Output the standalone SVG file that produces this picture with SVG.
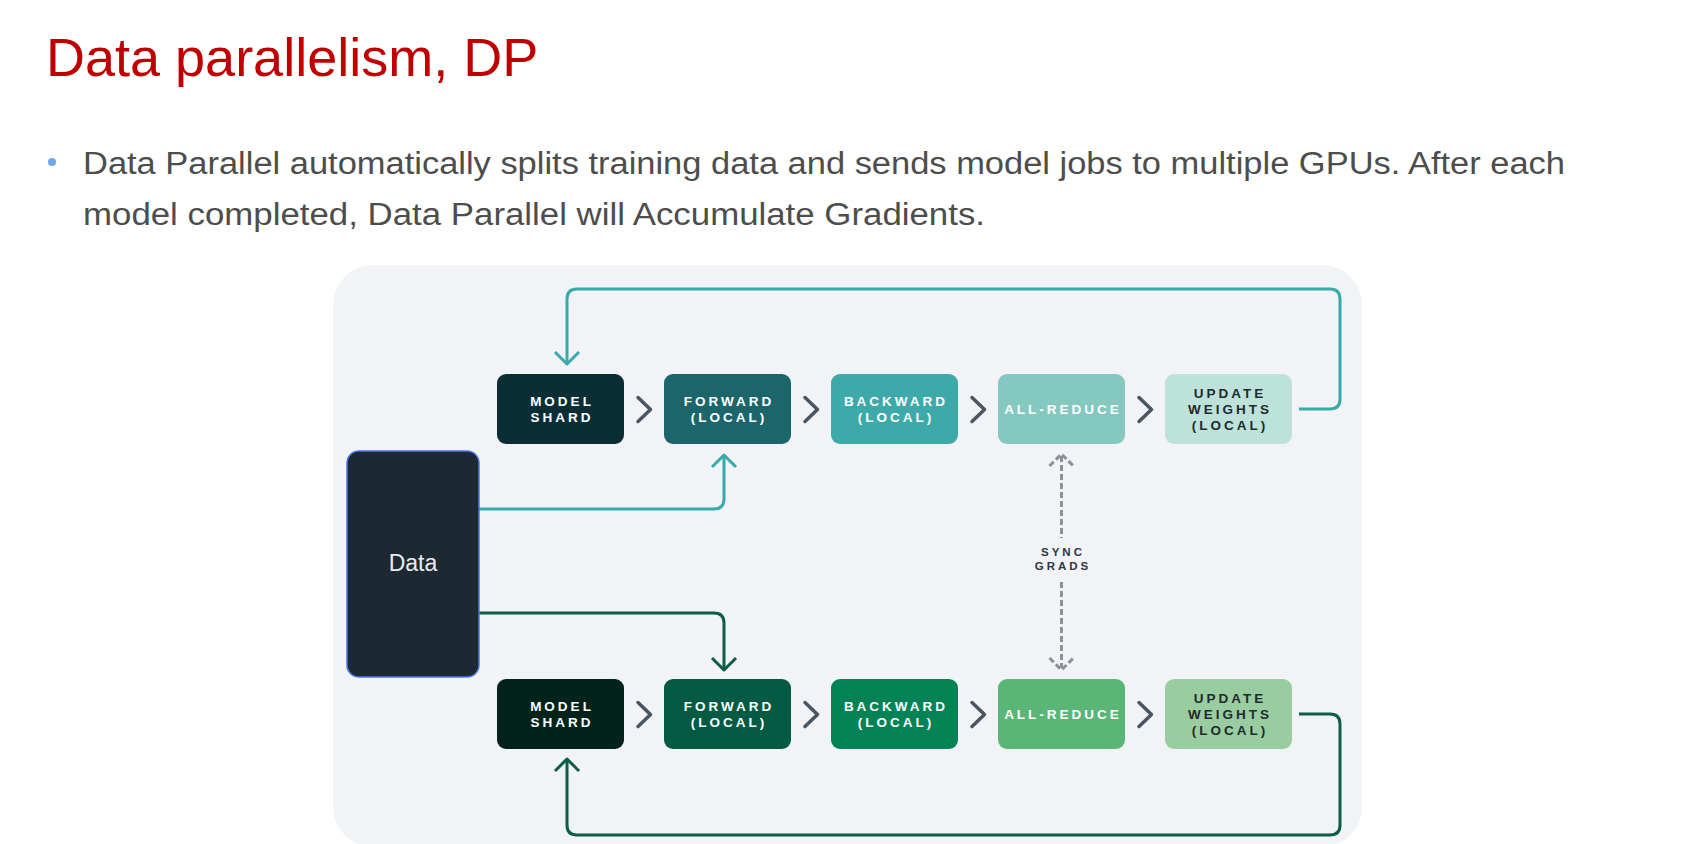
<svg xmlns="http://www.w3.org/2000/svg" width="1684" height="844" viewBox="0 0 1684 844">
<style>
.title{font-family:"Liberation Sans",Arial,sans-serif;font-size:54px;fill:#c00000}
.body{font-family:"Liberation Sans",Arial,sans-serif;font-size:31px;fill:#4d4d4d}
.lbl{font-family:"Liberation Sans",Arial,sans-serif;font-size:13.5px;font-weight:bold;letter-spacing:3px;text-anchor:middle}
.w{fill:#ffffff}
.d{fill:#1f2a30}
.sync{font-family:"Liberation Sans",Arial,sans-serif;font-size:11.5px;font-weight:bold;letter-spacing:3px;text-anchor:middle;fill:#2d3640}
.chev{fill:none;stroke:#4a5562;stroke-width:3.5;stroke-linecap:round;stroke-linejoin:round}
.lt{fill:none;stroke:#3aa9a9;stroke-width:3;stroke-linejoin:round}
.lb{fill:none;stroke:#0d5e45;stroke-width:3;stroke-linejoin:round}
.dash{fill:none;stroke:#8a9197;stroke-width:3;stroke-dasharray:6 3}
</style>
<rect width="1684" height="844" fill="#ffffff"/>
<text class="title" x="46" y="76">Data parallelism, DP</text>
<circle cx="52" cy="162" r="4" fill="#6ea8f5"/>
<text class="body" x="83" y="174" textLength="1482" lengthAdjust="spacingAndGlyphs">Data Parallel automatically splits training data and sends model jobs to multiple GPUs. After each</text>
<text class="body" x="83" y="225" textLength="902" lengthAdjust="spacingAndGlyphs">model completed, Data Parallel will Accumulate Gradients.</text>
<rect x="333" y="265" width="1029" height="582" rx="40" fill="#f1f3f7"/>

<g id="connectors">
<path class="lt" d="M1299 409 H1330 Q1340 409 1340 399 V299 Q1340 289 1330 289 H577 Q567 289 567 299 V364"/>
<path class="lt" d="M555 352 L567 364 L579 352"/>
<path class="lt" d="M479 509 H714 Q724 509 724 499 V455"/>
<path class="lt" d="M712 467 L724 455 L736 467"/>
<path class="lb" d="M479 613 H714 Q724 613 724 623 V670"/>
<path class="lb" d="M712 658 L724 670 L736 658"/>
<path class="lb" d="M1299 714 H1330 Q1340 714 1340 724 V825 Q1340 835 1330 835 H577 Q567 835 567 825 V759"/>
<path class="lb" d="M555 771 L567 759 L579 771"/>
<path class="chev" d="M638 397.5 L650.5 409.5 L638 421.5"/>
<path class="chev" d="M805 397.5 L817.5 409.5 L805 421.5"/>
<path class="chev" d="M972 397.5 L984.5 409.5 L972 421.5"/>
<path class="chev" d="M1139 397.5 L1151.5 409.5 L1139 421.5"/>
<path class="chev" d="M638 702.5 L650.5 714.5 L638 726.5"/>
<path class="chev" d="M805 702.5 L817.5 714.5 L805 726.5"/>
<path class="chev" d="M972 702.5 L984.5 714.5 L972 726.5"/>
<path class="chev" d="M1139 702.5 L1151.5 714.5 L1139 726.5"/>
<path class="dash" d="M1061.5 456 V538"/>
<path class="dash" d="M1049.5 466 L1061.5 454 L1073.5 466"/>
<path class="dash" d="M1061.5 582 V668"/>
<path class="dash" d="M1049.5 658 L1061.5 670 L1073.5 658"/>
</g>

<g id="sync-label">
<text class="sync" x="1063" y="556">SYNC</text>
<text class="sync" x="1063" y="570">GRADS</text>
</g>

<g id="data">
<rect x="347" y="451" width="132" height="226" rx="12" fill="#1d2932" stroke="#4f74e8" stroke-width="1.5"/>
<text x="413" y="571" text-anchor="middle" font-family="Liberation Sans, Arial, sans-serif" font-size="23" fill="#e8ecef">Data</text>
</g>

<g id="top-model">
<rect x="497" y="374" width="127" height="70" rx="9" fill="#0b2d36"/>
<text class="lbl w" x="562" y="405.7">MODEL</text>
<text class="lbl w" x="562" y="421.7">SHARD</text>
</g>
<g id="top-forward">
<rect x="664" y="374" width="127" height="70" rx="9" fill="#1a666b"/>
<text class="lbl w" x="729" y="405.7">FORWARD</text>
<text class="lbl w" x="729" y="421.7">(LOCAL)</text>
</g>
<g id="top-backward">
<rect x="831" y="374" width="127" height="70" rx="9" fill="#3da9a9"/>
<text class="lbl w" x="896" y="405.7">BACKWARD</text>
<text class="lbl w" x="896" y="421.7">(LOCAL)</text>
</g>
<g id="top-allreduce">
<rect x="998" y="374" width="127" height="70" rx="9" fill="#84c8bf"/>
<text class="lbl w" x="1063" y="414">ALL-REDUCE</text>
</g>
<g id="top-update">
<rect x="1165" y="374" width="127" height="70" rx="9" fill="#bde2da"/>
<text class="lbl d" x="1230" y="398">UPDATE</text>
<text class="lbl d" x="1230" y="414">WEIGHTS</text>
<text class="lbl d" x="1230" y="430">(LOCAL)</text>
</g>

<g id="bottom-model">
<rect x="497" y="679" width="127" height="70" rx="9" fill="#02231a"/>
<text class="lbl w" x="562" y="710.7">MODEL</text>
<text class="lbl w" x="562" y="726.7">SHARD</text>
</g>
<g id="bottom-forward">
<rect x="664" y="679" width="127" height="70" rx="9" fill="#045a42"/>
<text class="lbl w" x="729" y="710.7">FORWARD</text>
<text class="lbl w" x="729" y="726.7">(LOCAL)</text>
</g>
<g id="bottom-backward">
<rect x="831" y="679" width="127" height="70" rx="9" fill="#038256"/>
<text class="lbl w" x="896" y="710.7">BACKWARD</text>
<text class="lbl w" x="896" y="726.7">(LOCAL)</text>
</g>
<g id="bottom-allreduce">
<rect x="998" y="679" width="127" height="70" rx="9" fill="#5ab677"/>
<text class="lbl w" x="1063" y="719">ALL-REDUCE</text>
</g>
<g id="bottom-update">
<rect x="1165" y="679" width="127" height="70" rx="9" fill="#99cd9f"/>
<text class="lbl d" x="1230" y="703">UPDATE</text>
<text class="lbl d" x="1230" y="719">WEIGHTS</text>
<text class="lbl d" x="1230" y="735">(LOCAL)</text>
</g>
</svg>
